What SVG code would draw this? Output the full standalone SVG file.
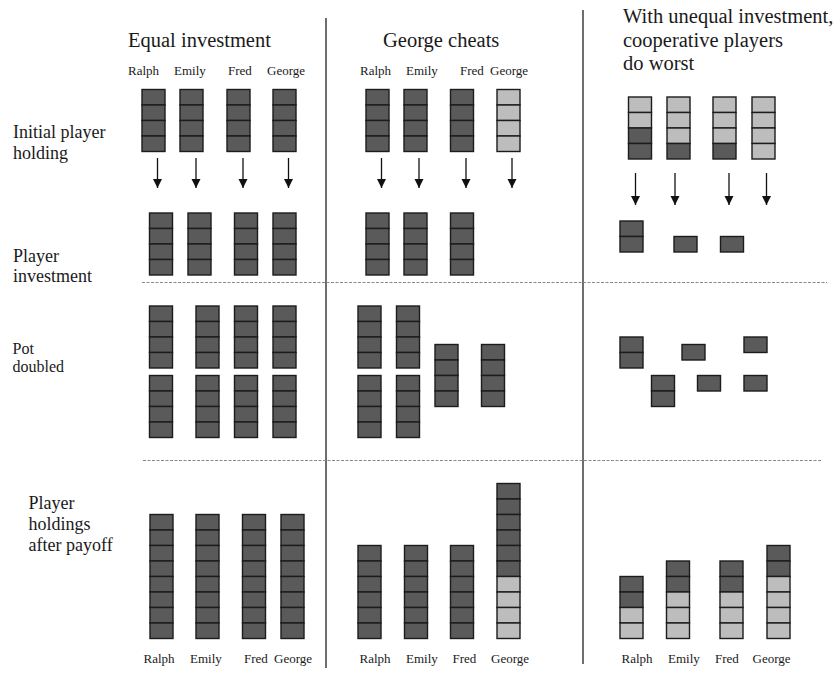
<svg xmlns="http://www.w3.org/2000/svg" xmlns:xlink="http://www.w3.org/1999/xlink" width="837" height="673" viewBox="0 0 837 673">
<style>
text{font-family:"Liberation Serif","Times New Roman",serif;fill:#1a1a1a}
.title{font-size:20.5px}
.row{font-size:18px}
.row16{font-size:16px}
.name{font-size:13px}
.d{fill:#5a5a5a;stroke:#1c1c1c;stroke-width:1.4}
.l{fill:#bdbdbd;stroke:#1c1c1c;stroke-width:1.4}
.vline{stroke:#4a4a4a;stroke-width:1.6;fill:none}
.dash{stroke:#8a8a8a;stroke-width:1.1;stroke-dasharray:3 1.5;fill:none}
.arrow{stroke:#111;stroke-width:1.3;fill:none;marker-end:url(#ah)}
</style>
<defs>
<marker id="ah" viewBox="0 0 10 10" refX="10" refY="5" markerUnits="userSpaceOnUse" markerWidth="9" markerHeight="10" orient="auto">
<path d="M0,0 L10,5 L0,10 z" fill="#111"/>
</marker>
<rect id="D1" class="d" width="23" height="15.5"/>
<rect id="L1" class="l" width="23" height="15.5"/>
<g id="D2"><use href="#D1"/><use href="#D1" y="15.5"/></g>
<g id="L2"><use href="#L1"/><use href="#L1" y="15.5"/></g>
<g id="D4"><use href="#D2"/><use href="#D2" y="31"/></g>
<g id="L4"><use href="#L2"/><use href="#L2" y="31"/></g>
</defs>
<rect width="837" height="673" fill="#fff"/>

<g id="frame">
<line class="vline" x1="326" y1="18" x2="326" y2="668"/>
<line class="vline" x1="583" y1="10" x2="583" y2="664"/>
<line class="dash" x1="142" y1="282.5" x2="827" y2="282.5"/>
<line class="dash" x1="143" y1="460.5" x2="822" y2="460.5"/>
</g>

<g id="titles">
<text class="title" x="128" y="47">Equal investment</text>
<text class="title" x="383" y="47">George cheats</text>
<text class="title" x="623" y="23">With unequal investment,</text>
<text class="title" x="623" y="47">cooperative players</text>
<text class="title" x="623" y="70">do worst</text>
</g>

<g id="row-labels">
<text class="row" x="13" y="137.5">Initial player</text>
<text class="row" x="13" y="159">holding</text>
<text class="row" x="13" y="261.5">Player</text>
<text class="row" x="13" y="282">investment</text>
<text class="row16" x="12.5" y="354">Pot</text>
<text class="row16" x="12.5" y="372">doubled</text>
<text class="row" x="28.5" y="508.5">Player</text>
<text class="row" x="28.5" y="530">holdings</text>
<text class="row" x="28.5" y="551">after payoff</text>
</g>

<g id="names-top">
<text class="name" x="128" y="75">Ralph</text>
<text class="name" x="174" y="75">Emily</text>
<text class="name" x="228" y="75">Fred</text>
<text class="name" x="267" y="75">George</text>
<text class="name" x="360" y="75">Ralph</text>
<text class="name" x="406" y="75">Emily</text>
<text class="name" x="460" y="75">Fred</text>
<text class="name" x="490" y="75">George</text>
</g>

<g id="names-bottom">
<text class="name" x="143.5" y="663">Ralph</text>
<text class="name" x="190" y="663">Emily</text>
<text class="name" x="244" y="663">Fred</text>
<text class="name" x="274" y="663">George</text>
<text class="name" x="359.5" y="663">Ralph</text>
<text class="name" x="406" y="663">Emily</text>
<text class="name" x="452.5" y="663">Fred</text>
<text class="name" x="491" y="663">George</text>
<text class="name" x="621.5" y="663">Ralph</text>
<text class="name" x="668" y="663">Emily</text>
<text class="name" x="715" y="663">Fred</text>
<text class="name" x="752.5" y="663">George</text>
</g>

<!-- Column 1: Equal investment -->
<g id="c1-initial-ralph"><use href="#D4" x="142" y="89.5"/></g>
<g id="c1-initial-emily"><use href="#D4" x="180" y="89.5"/></g>
<g id="c1-initial-fred"><use href="#D4" x="227" y="89.5"/></g>
<g id="c1-initial-george"><use href="#D4" x="273" y="89.5"/></g>
<g id="c1-invest-ralph"><use href="#D4" x="149.5" y="213"/></g>
<g id="c1-invest-emily"><use href="#D4" x="188" y="213"/></g>
<g id="c1-invest-fred"><use href="#D4" x="234.5" y="213"/></g>
<g id="c1-invest-george"><use href="#D4" x="273" y="213"/></g>
<g id="c1-pot-1"><use href="#D4" x="149.5" y="306"/><use href="#D4" x="149.5" y="375.5"/></g>
<g id="c1-pot-2"><use href="#D4" x="196" y="306"/><use href="#D4" x="196" y="375.5"/></g>
<g id="c1-pot-3"><use href="#D4" x="234.5" y="306"/><use href="#D4" x="234.5" y="375.5"/></g>
<g id="c1-pot-4"><use href="#D4" x="273" y="306"/><use href="#D4" x="273" y="375.5"/></g>
<g id="c1-payoff-ralph"><use href="#D4" x="150" y="514.5"/><use href="#D4" x="150" y="576.5"/></g>
<g id="c1-payoff-emily"><use href="#D4" x="196" y="514.5"/><use href="#D4" x="196" y="576.5"/></g>
<g id="c1-payoff-fred"><use href="#D4" x="242.5" y="514.5"/><use href="#D4" x="242.5" y="576.5"/></g>
<g id="c1-payoff-george"><use href="#D4" x="281" y="514.5"/><use href="#D4" x="281" y="576.5"/></g>

<!-- Column 2: George cheats -->
<g id="c2-initial-ralph"><use href="#D4" x="366" y="89.5"/></g>
<g id="c2-initial-emily"><use href="#D4" x="404" y="89.5"/></g>
<g id="c2-initial-fred"><use href="#D4" x="450.5" y="89.5"/></g>
<g id="c2-initial-george"><use href="#L4" x="497" y="89.5"/></g>
<g id="c2-invest-ralph"><use href="#D4" x="366" y="213"/></g>
<g id="c2-invest-emily"><use href="#D4" x="404" y="213"/></g>
<g id="c2-invest-fred"><use href="#D4" x="450.5" y="213"/></g>
<g id="c2-pot-1"><use href="#D4" x="358" y="306"/><use href="#D4" x="358" y="375.5"/></g>
<g id="c2-pot-2"><use href="#D4" x="396.5" y="306"/><use href="#D4" x="396.5" y="375.5"/></g>
<g id="c2-pot-3"><use href="#D4" x="435" y="344.5"/></g>
<g id="c2-pot-4"><use href="#D4" x="481.5" y="344.5"/></g>
<g id="c2-payoff-ralph"><use href="#D2" x="358" y="545.5"/><use href="#D4" x="358" y="576.5"/></g>
<g id="c2-payoff-emily"><use href="#D2" x="404.5" y="545.5"/><use href="#D4" x="404.5" y="576.5"/></g>
<g id="c2-payoff-fred"><use href="#D2" x="450.5" y="545.5"/><use href="#D4" x="450.5" y="576.5"/></g>
<g id="c2-payoff-george"><use href="#D4" x="497" y="483.5"/><use href="#D2" x="497" y="545.5"/><use href="#L4" x="497" y="576.5"/></g>

<!-- Column 3: unequal investment -->
<g id="c3-initial-ralph"><use href="#L2" x="628.5" y="97"/><use href="#D2" x="628.5" y="128"/></g>
<g id="c3-initial-emily"><use href="#L2" x="667" y="97"/><use href="#L1" x="667" y="128"/><use href="#D1" x="667" y="143.5"/></g>
<g id="c3-initial-fred"><use href="#L2" x="713" y="97"/><use href="#L1" x="713" y="128"/><use href="#D1" x="713" y="143.5"/></g>
<g id="c3-initial-george"><use href="#L4" x="752" y="97"/></g>
<g id="c3-invest-ralph"><use href="#D2" x="620" y="221"/></g>
<g id="c3-invest-emily"><use href="#D1" x="674" y="236.5"/></g>
<g id="c3-invest-fred"><use href="#D1" x="720.5" y="236.5"/></g>
<g id="c3-pot-1"><use href="#D2" x="620" y="337"/></g>
<g id="c3-pot-2"><use href="#D2" x="651.5" y="375.5"/></g>
<g id="c3-pot-3"><use href="#D1" x="682" y="344.5"/></g>
<g id="c3-pot-4"><use href="#D1" x="697.5" y="375.5"/></g>
<g id="c3-pot-5"><use href="#D1" x="744" y="337"/></g>
<g id="c3-pot-6"><use href="#D1" x="744" y="375.5"/></g>
<g id="c3-payoff-ralph"><use href="#D2" x="620" y="576.5"/><use href="#L2" x="620" y="607.5"/></g>
<g id="c3-payoff-emily"><use href="#D2" x="666.5" y="561"/><use href="#L2" x="666.5" y="592"/><use href="#L1" x="666.5" y="623"/></g>
<g id="c3-payoff-fred"><use href="#D2" x="720" y="561"/><use href="#L2" x="720" y="592"/><use href="#L1" x="720" y="623"/></g>
<g id="c3-payoff-george"><use href="#D2" x="767" y="545.5"/><use href="#L4" x="767" y="576.5"/></g>

<g id="connectors">
<line class="arrow" x1="157.5" y1="158" x2="157.5" y2="188"/>
<line class="arrow" x1="196" y1="158" x2="196" y2="188"/>
<line class="arrow" x1="243" y1="158" x2="243" y2="188"/>
<line class="arrow" x1="288.5" y1="158" x2="288.5" y2="188"/>
<line class="arrow" x1="381.5" y1="158" x2="381.5" y2="188"/>
<line class="arrow" x1="419" y1="158" x2="419" y2="188"/>
<line class="arrow" x1="466" y1="158" x2="466" y2="188"/>
<line class="arrow" x1="512" y1="158" x2="512" y2="188"/>
<line class="arrow" x1="635.5" y1="173" x2="635.5" y2="205"/>
<line class="arrow" x1="675" y1="173" x2="675" y2="205"/>
<line class="arrow" x1="729" y1="173" x2="729" y2="205"/>
<line class="arrow" x1="766.5" y1="173" x2="766.5" y2="205"/>
</g>
</svg>
